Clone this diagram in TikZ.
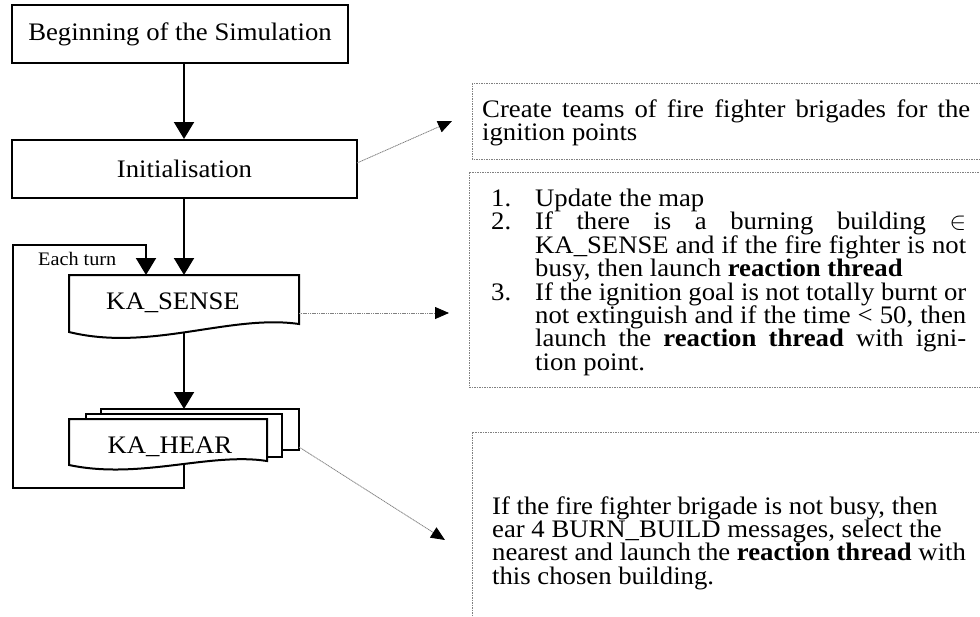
\documentclass[tikz,border=0pt]{standalone}
\usepackage{fontspec}
\setmainfont{Liberation Serif}[FakeStretch=1.06]
\usetikzlibrary{arrows.meta}
\begin{document}
\begin{tikzpicture}[x=1pt,y=-1pt,
  flow/.style={line width=2pt, -{Triangle[width=20pt,length=17pt]}},
  loopline/.style={line width=2pt, -{Triangle[width=20pt,length=17pt]}},
  note/.style={draw=gray, line width=0.8pt, dash pattern=on 1.2pt off 0.6pt, -{Triangle[width=12pt,length=14pt,color=black]}},
  box/.style={draw, line width=2pt, fill=white},
  dotbox/.style={draw=gray, line width=1pt, dash pattern=on 1.5pt off 1pt},
  main/.style={font=\fontsize{25.2}{27}\selectfont, inner sep=0pt},
  body/.style={font=\fontsize{25.2}{26}\selectfont, anchor=base west, inner sep=0pt},
  small/.style={font=\fontsize{19.1}{21}\selectfont, anchor=base west, inner sep=0pt}
]
\useasboundingbox (0,0) rectangle (980,616);

% axis coordinates
\coordinate (axis) at (184,0);

% main boxes
\node[box, main, minimum width=336pt, minimum height=58pt] (begin) at (180,34) {Beginning of the Simulation};
\node[box, main, minimum width=345pt, minimum height=58pt] (init) at (184.5,169) {Initialisation};

% KA_SENSE (document shape)
\draw[box] (69,275) -- (299,275) -- (299,324) .. controls (230,314) and (150,352) .. (69,332) -- cycle;
\node[main] (sense) at (173,303) {KA\_SENSE};
\coordinate (senseN) at (184,275);
\coordinate (senseNL) at (146,275);
\coordinate (senseS) at (184,333);
\coordinate (senseE) at (299,313);

% KA_HEAR (multi-document shape)
\draw[box] (101,409) rectangle (299,450);
\draw[box] (86,414) rectangle (282,457);
\draw[box] (69,419) -- (267,419) -- (267,461) .. controls (210,452) and (140,480) .. (69,465) -- cycle;
\node[main] (hear) at (170,447) {KA\_HEAR};
\coordinate (hearN) at (184,409);
\coordinate (hearS) at (184,463.5);
\coordinate (hearE) at (299,447);

% loop coordinates
\coordinate (loopA) at (184,488);
\coordinate (loopB) at (13,488);
\coordinate (loopC) at (13,245);
\coordinate (loopD) at (146,245);
\node[small] (each) at (38,265) {Each turn};

% flow arrows
\draw[flow] (begin.south -| axis) -- (init.north -| axis);
\draw[flow] (init.south -| axis) -- (senseN);
\draw[flow] (senseS) -- (hearN);
\draw[loopline] (hearS) -- (loopA) -- (loopB) -- (loopC) -- (loopD) -- (senseNL);

% note boxes
\draw[dotbox] (472,83) rectangle (995,159);
\draw[dotbox] (469,172) rectangle (995,387);
\draw[dotbox] (472,432) rectangle (995,630);

% note arrows
\coordinate (initE) at (357,163);
\coordinate (tipA) at (452,121);
\coordinate (tipB) at (449,313);
\coordinate (tipC) at (445,540);
\draw[note] (initE) -- (tipA);
\draw[note] (senseE) -- (tipB);
\draw[note] (hearE) -- (tipC);

% note 1 text
\node[body] (n1a) at (482,117) {\makebox[488pt][s]{Create teams of fire fighter brigades for the}};
\node[body] (n1b) at (482,140.5) {ignition points};

% note 2 text
\node[body] (k1) at (491,206.5) {1.};
\node[body] (l1) at (535,206.5) {Update the map};
\node[body] (k2) at (491,229.9) {2.};
\node[body] (l2a) at (535,229.9) {\makebox[431pt][s]{If there is a burning building $\in$}};
\node[body] (l2b) at (535,253.3) {\makebox[431pt][s]{KA\_SENSE and if the fire fighter is not}};
\node[body] (l2c) at (535,276.7) {busy, then launch \textbf{reaction thread}};
\node[body] (k3) at (491,300.1) {3.};
\node[body] (l3a) at (535,300.1) {\makebox[431pt][s]{If the ignition goal is not totally burnt or}};
\node[body] (l3b) at (535,323.5) {\makebox[431pt][s]{not extinguish and if the time < 50, then}};
\node[body] (l3c) at (535,346.9) {\makebox[431pt][s]{launch the \textbf{reaction thread} with igni-}};
\node[body] (l3d) at (535,370.3) {tion point.};

% note 3 text
\node[body] (h1) at (492,514) {If the fire fighter brigade is not busy, then};
\node[body] (h2) at (492,537.4) {ear 4 BURN\_BUILD messages, select the};
\node[body] (h3) at (492,560.8) {nearest and launch the \textbf{reaction thread} with};
\node[body] (h4) at (492,584.2) {this chosen building.};
\end{tikzpicture}
\end{document}
